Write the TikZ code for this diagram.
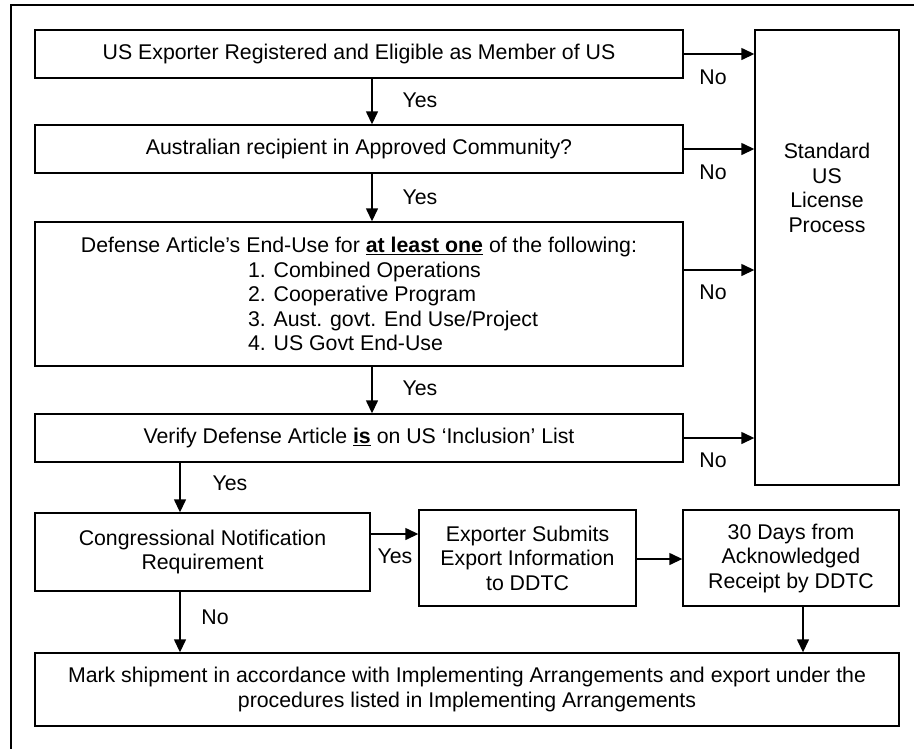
\documentclass[tikz,border=0pt]{standalone}
\usepackage{fontspec}
\setmainfont{Liberation Sans}
\usetikzlibrary{arrows.meta}
\begin{document}
\begin{tikzpicture}[x=1pt,y=-1pt,
  box/.style={draw,line width=1.4pt,inner sep=0pt,align=center},
  txt/.style={inner sep=0pt,align=center},
  arr/.style={line width=1.4pt,-{Triangle[length=13pt,width=12pt]}},
  font=\fontsize{21.3}{24.5}\selectfont]
\useasboundingbox (0,0) rectangle (914,748);
\draw[line width=1.4pt] (11,760) -- (11,5) -- (920,5);
% boxes
\node[box,minimum width=648pt,minimum height=48pt] (b1) at (359,54) {US Exporter Registered and Eligible as Member of US};
\node[box,minimum width=648pt,minimum height=48pt] (b2) at (359,149) {Australian recipient in Approved Community?};
\node[box,minimum width=648pt,minimum height=144pt] (b3) at (359,294) {Defense Article’s End-Use for \underline{\textbf{at least one}} of the following:\\
\makebox[222pt][l]{1. Combined Operations}\\
\makebox[222pt][l]{2. Cooperative Program}\\
\makebox[222pt][l]{3. Aust. govt. End Use/Project}\\
\makebox[222pt][l]{4. US Govt End-Use}};
\node[box,minimum width=648pt,minimum height=48pt] (b4) at (359,438) {Verify Defense Article \underline{\textbf{is}} on US ‘Inclusion’ List};
\node[box,minimum width=144pt,minimum height=455pt] (std) at (827,257.5) {};
\node[txt] (stdt) at (827,188) {Standard\\US\\License\\Process};
\node[box,minimum width=335pt,minimum height=78pt] (b5) at (202.5,552) {Congressional Notification\\Requirement};
\node[box,minimum width=217pt,minimum height=96pt] (b6) at (527.5,558) {Exporter Submits\\Export Information\\to DDTC};
\node[box,minimum width=216pt,minimum height=96pt] (b7) at (791,558) {30 Days from\\Acknowledged\\Receipt by DDTC};
\node[box,minimum width=864pt,minimum height=73pt] (b8) at (467,689.5) {Mark shipment in accordance with Implementing Arrangements and export under the\\procedures listed in Implementing Arrangements};
% helper coordinates
\coordinate (cx) at (372,0);
\coordinate (lx) at (180,0);
\coordinate (rx) at (803,0);
\coordinate (y3) at (0,270);
\coordinate (y5) at (0,534);
\coordinate (y6) at (0,559);
% arrows
\draw[arr] (b1.south -| cx) -- (b2.north -| cx);
\draw[arr] (b2.south -| cx) -- (b3.north -| cx);
\draw[arr] (b3.south -| cx) -- (b4.north -| cx);
\draw[arr] (b1.east) -- (b1.east -| std.west);
\draw[arr] (b2.east) -- (b2.east -| std.west);
\draw[arr] (b3.east |- y3) -- (std.west |- y3);
\draw[arr] (b4.east) -- (b4.east -| std.west);
\draw[arr] (b4.south -| lx) -- (b5.north -| lx);
\draw[arr] (b5.east |- y5) -- (b6.west |- y5);
\draw[arr] (b6.east |- y6) -- (b7.west |- y6);
\draw[arr] (b7.south -| rx) -- (b8.north -| rx);
\draw[arr] (b5.south -| lx) -- (b8.north -| lx);
% labels
\node[txt] (yes1) at (420,100) {Yes};
\node[txt] (yes2) at (420,197) {Yes};
\node[txt] (yes3) at (420,388) {Yes};
\node[txt] (yes4) at (230,483) {Yes};
\node[txt] (yes5) at (395,556) {Yes};
\node[txt] (no1) at (713,77) {No};
\node[txt] (no2) at (713,172) {No};
\node[txt] (no3) at (713,292) {No};
\node[txt] (no4) at (713,460) {No};
\node[txt] (no5) at (215,617) {No};
\end{tikzpicture}
\end{document}
